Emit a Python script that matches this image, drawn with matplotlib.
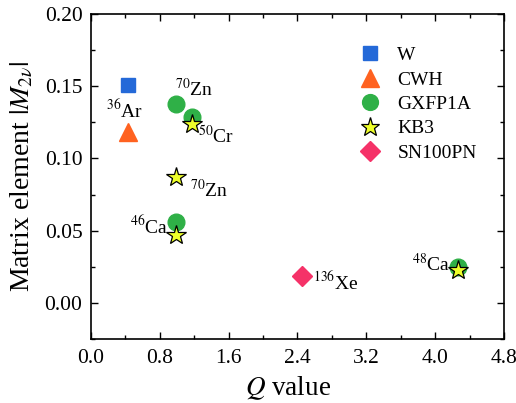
import matplotlib
matplotlib.use('Agg')
import matplotlib.pyplot as plt
from matplotlib.ticker import MultipleLocator

plt.rcParams['font.family'] = 'Liberation Serif'
plt.rcParams['mathtext.fontset'] = 'stix'

# Data: Q value and |M_2v| per interaction
w_q = [0.43]
w_m = [0.151]
cwh_q = [0.43]
cwh_m = [0.118]
gxf_q = [0.99, 1.17, 0.99, 4.26]
gxf_m = [0.138, 0.129, 0.056, 0.025]
kb3_q = [1.17, 0.99, 0.99, 4.26]
kb3_m = [0.124, 0.087, 0.047, 0.023]
sn_q = [2.45]
sn_m = [0.0185]

fig = plt.figure(figsize=(5.16, 4.03), dpi=100)
ax = fig.add_axes([0.176, 0.159, 0.801, 0.806])

ax.plot(w_q, w_m, 's', ms=10.5, color='#2469d8', ls='none', label='W')
ax.plot(cwh_q, cwh_m, '^', ms=13, color='#ff6220', ls='none', label='CWH')
ax.plot(gxf_q, gxf_m, 'o', ms=12, color='#2fb047', ls='none', label='GXFP1A')
ax.plot(kb3_q, kb3_m, '*', ms=15, color='#eeff2a', mec='black', mew=0.9,
        ls='none', label='KB3')
ax.plot(sn_q, sn_m, 'D', ms=10.5, color='#f53268', ls='none', label='SN100PN')

# Nucleus labels
fs = 14
ax.text(0.18, 0.1335, r'$^{36}$Ar', fontsize=fs, va='center')
ax.text(0.98, 0.148, r'$^{70}$Zn', fontsize=fs, va='center')
ax.text(1.24, 0.115, r'$^{50}$Cr', fontsize=fs, va='center')
ax.text(1.15, 0.078, r'$^{70}$Zn', fontsize=fs, va='center')
ax.text(0.45, 0.053, r'$^{46}$Ca', fontsize=fs, va='center')
ax.text(2.58, 0.014, r'$^{136}$Xe', fontsize=fs, va='center')
ax.text(3.73, 0.027, r'$^{48}$Ca', fontsize=fs, va='center')

ax.set_xlim(0.0, 4.8)
ax.set_ylim(-0.025, 0.20)
ax.xaxis.set_major_locator(MultipleLocator(0.8))
ax.xaxis.set_minor_locator(MultipleLocator(0.4))
ax.yaxis.set_major_locator(MultipleLocator(0.05))
ax.yaxis.set_minor_locator(MultipleLocator(0.025))
ax.tick_params(which='both', direction='in', top=True, right=True, labelsize=15.5)
ax.tick_params(which='major', length=5, width=1)
ax.tick_params(which='minor', length=3, width=1)
ax.tick_params(axis='x', pad=7)
ax.tick_params(axis='y', pad=6)
ax.xaxis.set_major_formatter(plt.FuncFormatter(lambda v, p: f'{v:.1f}'))
ax.yaxis.set_major_formatter(plt.FuncFormatter(lambda v, p: f'{v:.2f}'))
for s in ax.spines.values():
    s.set_linewidth(1.2)

ax.set_xlabel(r'$Q$ value', fontsize=19.5)
ax.set_ylabel(r'Matrix element $|M_{2\nu}|$', fontsize=20)
ax.xaxis.set_label_coords(0.478, -0.11)
ax.yaxis.set_label_coords(-0.135, 0.5)

ax.legend(loc='upper right', bbox_to_anchor=(0.976, 0.954), frameon=False,
          fontsize=14, handletextpad=0.4, labelspacing=0.35, markerscale=0.95)

fig.savefig('out.png', dpi=100)
